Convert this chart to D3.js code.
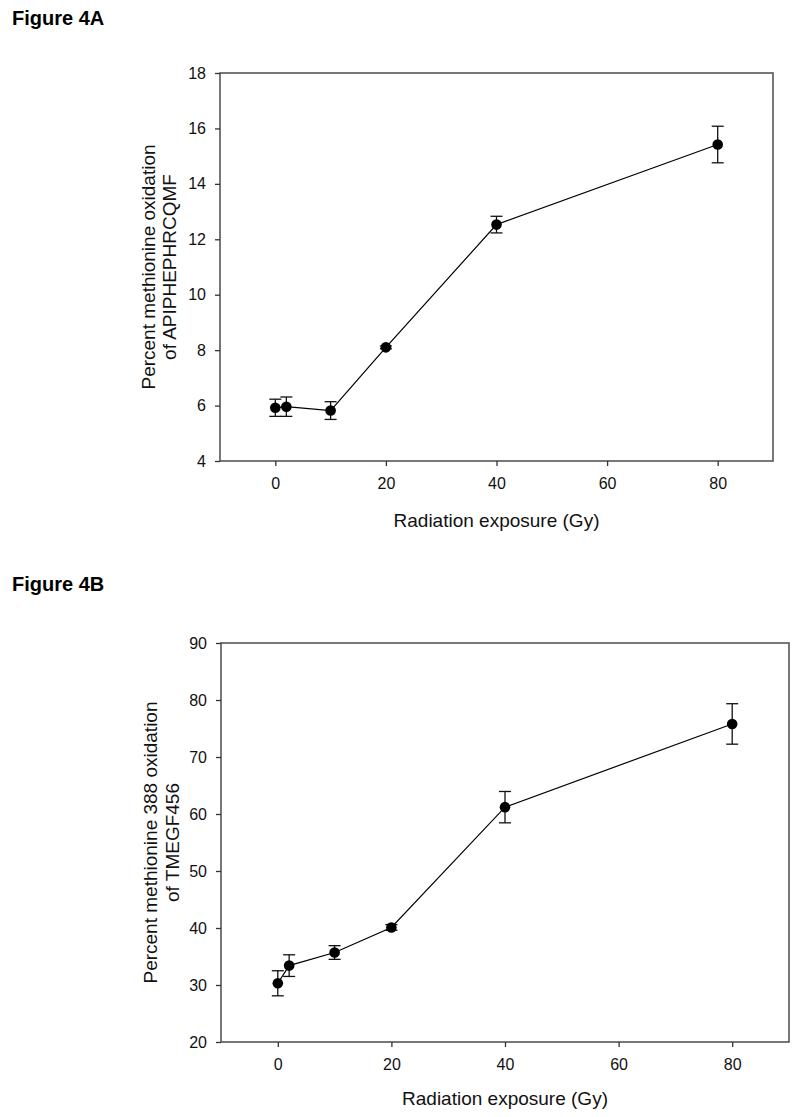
<!DOCTYPE html>
<html><head><meta charset="utf-8">
<script src="https://cdn.jsdelivr.net/npm/d3@7"></script>
<style>body{margin:0;background:#fff;} text{font-family:"Liberation Sans",Arial,sans-serif;}</style>
</head><body>
<svg id="c" width="800" height="1117"></svg>
<script>
const doses = [0, 2, 10, 20, 40, 80];
const xTicks = [0, 20, 40, 60, 80];
// Figure 4A
const valuesA = [5.92, 5.96, 5.82, 8.10, 12.53, 15.42];
const errorsA = [0.31, 0.35, 0.32, 0.05, 0.30, 0.66];
const yTicksA = [4, 6, 8, 10, 12, 14, 16, 18];
// Figure 4B
const valuesB = [30.3, 33.4, 35.7, 40.1, 61.2, 75.8];
const errorsB = [2.2, 1.9, 1.2, 0.5, 2.75, 3.55];
const yTicksB = [20, 30, 40, 50, 60, 70, 80, 90];

const svg = d3.select("#c");

function panel(o) {
  const g = svg.append("g");
  g.append("text").attr("x", 12).attr("y", o.titleY).attr("font-size", 20).attr("font-weight", "bold").text(o.title);
  const x = d3.scaleLinear().domain([-10, 90]).range([o.left, o.right]);
  const y = d3.scaleLinear().domain(o.yDomain).range([o.bottom, o.top]);
  g.append("rect").attr("x", o.left).attr("y", o.top).attr("width", o.right - o.left).attr("height", o.bottom - o.top)
    .attr("fill", "none").attr("stroke", "#555").attr("stroke-width", 1.6);
  const xa = g.append("g").attr("transform", `translate(0,${o.bottom})`)
    .call(d3.axisBottom(x).tickValues(xTicks).tickSize(5).tickPadding(12).tickFormat(d3.format("d")));
  const ya = g.append("g").attr("transform", `translate(${o.left},0)`)
    .call(d3.axisLeft(y).tickValues(o.yTicks).tickSize(5).tickPadding(9).tickFormat(d3.format("d")));
  [xa, ya].forEach(a => {
    a.select(".domain").remove();
    a.selectAll("line").attr("stroke", "#333").attr("stroke-width", 1.3);
    a.selectAll("text").attr("font-size", 16).attr("fill", "#111").attr("font-family", "Liberation Sans, Arial, sans-serif");
  });
  g.append("text").attr("x", (o.left + o.right) / 2).attr("y", o.bottom + o.xLabelDy).attr("text-anchor", "middle")
    .attr("font-size", 19).attr("fill", "#111").text("Radiation exposure (Gy)");
  const cy = (o.top + o.bottom) / 2;
  o.yLabel.forEach((t, i) => {
    g.append("text").attr("transform", `translate(${o.yLabelX[i]},${cy}) rotate(-90)`).attr("text-anchor", "middle")
      .attr("font-size", 19).attr("fill", "#111").text(t);
  });
  const data = doses.map((d, i) => ({x: d, v: o.values[i], e: o.errors[i]}));
  const line = d3.line().x(d => x(d.x)).y(d => y(d.v));
  g.append("path").datum(data).attr("d", line).attr("fill", "none").attr("stroke", "#000").attr("stroke-width", 1.2);
  const eb = g.append("g").selectAll("g").data(data).join("g").attr("stroke", "#111").attr("stroke-width", 1.3);
  eb.append("line").attr("x1", d => x(d.x)).attr("x2", d => x(d.x)).attr("y1", d => y(d.v - d.e)).attr("y2", d => y(d.v + d.e));
  eb.append("line").attr("x1", d => x(d.x) - 6).attr("x2", d => x(d.x) + 6).attr("y1", d => y(d.v - d.e)).attr("y2", d => y(d.v - d.e));
  eb.append("line").attr("x1", d => x(d.x) - 6).attr("x2", d => x(d.x) + 6).attr("y1", d => y(d.v + d.e)).attr("y2", d => y(d.v + d.e));
  g.append("g").selectAll("circle").data(data).join("circle")
    .attr("cx", d => x(d.x)).attr("cy", d => y(d.v)).attr("r", 5.3).attr("fill", "#000");
}

panel({title: "Figure 4A", titleY: 25, left: 220, right: 773, top: 73, bottom: 461, yDomain: [4, 18],
  yTicks: yTicksA, values: valuesA, errors: errorsA, xLabelDy: 66,
  yLabel: ["Percent methionine oxidation", "of APIPHEPHRCQMF"], yLabelX: [155, 176]});
panel({title: "Figure 4B", titleY: 591, left: 221, right: 789, top: 643, bottom: 1042, yDomain: [20, 90],
  yTicks: yTicksB, values: valuesB, errors: errorsB, xLabelDy: 63,
  yLabel: ["Percent methionine 388 oxidation", "of TMEGF456"], yLabelX: [157, 179]});
</script>
</body></html>
